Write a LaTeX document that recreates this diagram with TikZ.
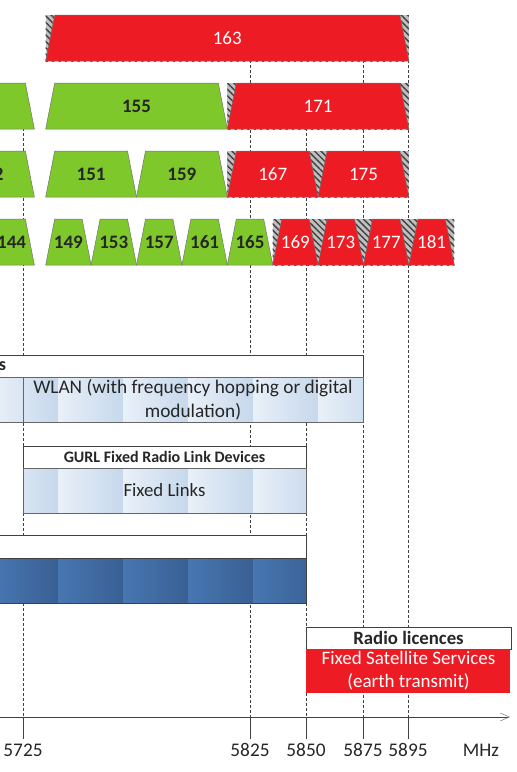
\documentclass[tikz,border=0pt]{standalone}
\usepackage{fontspec}
\setmainfont{Carlito}
\usetikzlibrary{patterns.meta,arrows.meta}
\definecolor{chgreen}{RGB}{126,200,44}
\definecolor{chred}{RGB}{237,28,36}
\definecolor{txt}{RGB}{38,38,38}
\definecolor{hatchbg}{RGB}{192,192,192}
\definecolor{lbA}{RGB}{233,240,248}
\definecolor{lbB}{RGB}{198,216,236}
\definecolor{dbA}{RGB}{71,118,177}
\definecolor{dbB}{RGB}{57,96,148}
\definecolor{edge}{RGB}{64,64,64}
\pgfmathdeclarefunction{fx}{1}{\pgfmathparse{23+(#1-5725)*2.27}}
\tikzset{
  grnbox/.style={fill=chgreen,draw=black!55,line width=0.5pt},
  redbox/.style={fill=chred,draw=black!55,line width=0.5pt},
  grnlbl/.style={text=txt,font=\fontsize{19}{21}\selectfont\bfseries},
  redlbl/.style={text=white,font=\fontsize{19}{21}\selectfont},
  hdrbox/.style={fill=white,draw=edge,line width=0.8pt},
  bodyline/.style={draw=edge!80,line width=0.6pt},
  guide/.style={draw=edge,line width=0.6pt,dash pattern=on 3pt off 2pt},
  tickline/.style={draw=edge,line width=0.8pt},
  axlbl/.style={text=txt,font=\fontsize{19.3}{21}\selectfont},
}
\newcommand\chan[6]{%
  \path[#4box] ({fx(#1)},{#3+46}) -- ({fx(#1)+9},#3) -- ({fx(#2)-9},#3) -- ({fx(#2)},{#3+46}) -- cycle;
  \node[#4lbl] (#5) at ({(fx(#1)+fx(#2))/2},{#3+23}) {#6};}
\newcommand\hatchrow[3]{%
  \fill[hatchbg] ({fx(#1)},#3) rectangle ({fx(#2)},{#3+46});
  \fill[pattern={Lines[angle=-45,distance=4.5pt,line width=1.4pt]},pattern color=black!75] ({fx(#1)},#3) rectangle ({fx(#2)},{#3+46});}
\newcommand\bands[6]{%
  \begin{scope}
    \clip (#1,#2) rectangle (#3,#4);
    \foreach \k in {-1,...,7} \shade[left color=#5,right color=#6] ({-7+65*\k},#2) rectangle ({58+65*\k},#4);
  \end{scope}}
\begin{document}
\begin{tikzpicture}[x=1pt,y=-1pt]
\useasboundingbox (0,0) rectangle (517,772);
% guide lines
\coordinate (g1t) at (23,83);   \coordinate (g1b) at (23,717);
\coordinate (g2t) at (250,15);  \coordinate (g2b) at (250,717);
\coordinate (g3t) at (306,83);  \coordinate (g3b) at (306,717);
\coordinate (g4t) at (363,15);  \coordinate (g4b) at (363,717);
\coordinate (g5t) at (408,15);  \coordinate (g5b) at (408,717);
\foreach \g in {g1,g2,g3,g4,g5} \draw[guide] (\g t) -- (\g b);
% row 1 (160 MHz)
\hatchrow{5735}{5895}{15}
\chan{5735}{5895}{15}{red}{c163}{163}
% row 2 (80 MHz)
\chan{5650}{5730}{83}{grn}{c138}{}
\chan{5735}{5815}{83}{grn}{c155}{155}
\hatchrow{5815}{5895}{83}
\chan{5815}{5895}{83}{red}{c171}{171}
% row 3 (40 MHz)
\chan{5690}{5730}{151}{grn}{c142}{142}
\chan{5735}{5775}{151}{grn}{c151}{151}
\chan{5775}{5815}{151}{grn}{c159}{159}
\hatchrow{5815}{5895}{151}
\chan{5815}{5855}{151}{red}{c167}{167}
\chan{5855}{5895}{151}{red}{c175}{175}
% row 4 (20 MHz)
\chan{5710}{5730}{219}{grn}{c144}{144}
\chan{5735}{5755}{219}{grn}{c149}{149}
\chan{5755}{5775}{219}{grn}{c153}{153}
\chan{5775}{5795}{219}{grn}{c157}{157}
\chan{5795}{5815}{219}{grn}{c161}{161}
\chan{5815}{5835}{219}{grn}{c165}{165}
\hatchrow{5835}{5915}{219}
\chan{5835}{5855}{219}{red}{c169}{169}
\chan{5855}{5875}{219}{red}{c173}{173}
\chan{5875}{5895}{219}{red}{c177}{177}
\chan{5895}{5915}{219}{red}{c181}{181}
% WLAN block
\path[hdrbox] (-5,355) rectangle (363,377);
\node[text=txt,font=\fontsize{18}{20}\selectfont\bfseries,anchor=east] (hdrA) at (9.5,366) {es};
\bands{-5}{377}{363}{422}{lbA}{lbB}
\path[bodyline] (-5,377) rectangle (23,422);
\path[bodyline] (23,377) rectangle (363,422);
\node[text=txt,font=\fontsize{19.3}{24}\selectfont,align=center] (wlan) at (193,399.5) {WLAN (with frequency hopping or digital\\modulation)};
% GURL block
\path[hdrbox] (23,446) rectangle (306,468);
\node[text=txt,font=\fontsize{16}{18}\selectfont\bfseries] (gurl) at (164.5,457) {GURL Fixed Radio Link Devices};
\bands{23}{468}{306}{513}{lbA}{lbB}
\path[bodyline] (23,468) rectangle (306,513);
\node[text=txt,font=\fontsize{18.8}{21}\selectfont] (fixed) at (164.5,490.5) {Fixed Links};
% dark blue block
\path[hdrbox] (-5,535) rectangle (306,558);
\bands{-5}{558}{306}{603}{dbA}{dbB}
\path[draw=edge,line width=0.8pt] (-5,558) rectangle (306,603);
% Radio licences block
\path[hdrbox] (306,627) rectangle (511,649);
\node[text=txt,font=\fontsize{18.8}{21}\selectfont\bfseries] (rl) at (408.5,638) {Radio licences};
\fill[chred] (306,649) rectangle (510,693);
\node[text=white,font=\fontsize{19}{23}\selectfont,align=center] (fss) at (408.5,671) {Fixed Satellite Services\\(earth transmit)};
% axis
\coordinate (ax0) at (0,717);
\coordinate (ax1) at (510,717);
\draw[draw=edge,line width=0.8pt,-{Straight Barb[length=9pt,width=8pt,line width=0.6pt,color=black!45]}] (ax0) -- (ax1);
\foreach \x/\l in {23/5725,250/5825,306/5850,363/5875,408/5895}{
  \coordinate (t\l) at (\x,739);
  \draw[tickline] (\x,717) -- (t\l);
  \node[axlbl] (l\l) at (\x,750) {\l};
}
\node[axlbl] (mhz) at (481,750) {MHz};
\end{tikzpicture}
\end{document}
